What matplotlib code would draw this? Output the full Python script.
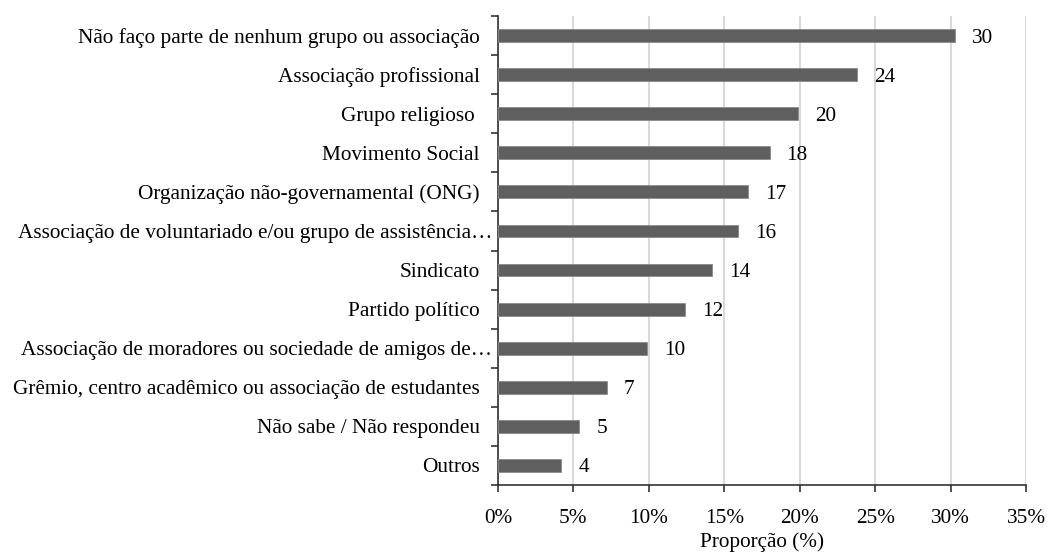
import matplotlib
matplotlib.use("Agg")
import matplotlib.pyplot as plt
import matplotlib.transforms as mtransforms
from matplotlib.ticker import FuncFormatter
import numpy as np

categories = [
    "Não faço parte de nenhum grupo ou associação",
    "Associação profissional",
    "Grupo religioso ",
    "Movimento Social",
    "Organização não-governamental (ONG)",
    "Associação de voluntariado e/ou grupo de assistência…",
    "Sindicato",
    "Partido político",
    "Associação de moradores ou sociedade de amigos de…",
    "Grêmio, centro acadêmico ou associação de estudantes",
    "Não sabe / Não respondeu",
    "Outros",
]
values = [30.3, 23.8, 19.9, 18.0, 16.6, 15.9, 14.2, 12.4, 9.9, 7.2, 5.4, 4.2]
value_labels = ["30", "24", "20", "18", "17", "16", "14", "12", "10", "7", "5", "4"]
x_ticks = [0, 5, 10, 15, 20, 25, 30, 35]

plt.rcParams['font.family'] = ['Liberation Serif', 'DejaVu Serif']
FS = 15.3

fig = plt.figure(figsize=(10.47, 5.56), dpi=100)
ax = fig.add_axes([498/1047, 1-485/556, (1026-498)/1047, (485-16)/556])

n = len(categories)
y = np.arange(n)[::-1]
ax.barh(y, values, height=0.33, color="#5f5f5f", edgecolor="#8a8a8a", linewidth=0.6, zorder=3)

for yi, v, lab in zip(y, values, value_labels):
    ax.annotate(lab, xy=(v, yi), xytext=(17, 0), textcoords="offset pixels",
                ha="left", va="center_baseline", fontsize=FS, color="black")

ax.set_xlim(0, 35)
ax.set_ylim(-0.5, n - 0.5)
ax.set_xticks(x_ticks)
ax.xaxis.set_major_formatter(FuncFormatter(lambda v, p: f"{int(v)}%"))
ax.tick_params(axis="x", labelsize=FS, length=5, width=1.2, color="#333333", pad=12, direction="out")

# y: major ticks at boundaries, labels at centers (minor)
ax.set_yticks(np.arange(-0.5, n, 1.0))
ax.set_yticklabels([])
ax.tick_params(axis="y", which="major", length=5, width=1.2, color="#333333", direction="out")
ax.set_yticks(y, minor=True)
ax.set_yticklabels(categories, minor=True, fontsize=FS)
ax.tick_params(axis="y", which="minor", length=0, pad=13)

for lbl in ax.get_yticklabels(minor=True):
    if lbl.get_text().endswith("…"):
        lbl.set_transform(lbl.get_transform() + mtransforms.ScaledTranslation(12/100, 0, fig.dpi_scale_trans))

ax.grid(axis="x", color="#d9d9d9", linewidth=1.5, zorder=0)
ax.set_axisbelow(True)
for s in ["top", "right"]:
    ax.spines[s].set_visible(False)
for s in ["left", "bottom"]:
    ax.spines[s].set_color("#333333")
    ax.spines[s].set_linewidth(1.2)

ax.set_xlabel("Proporção (%)", fontsize=FS, va="center")
ax.xaxis.set_label_coords(0.5, (485 - 542.5) / 469)

fig.savefig("out.png", dpi=100)
